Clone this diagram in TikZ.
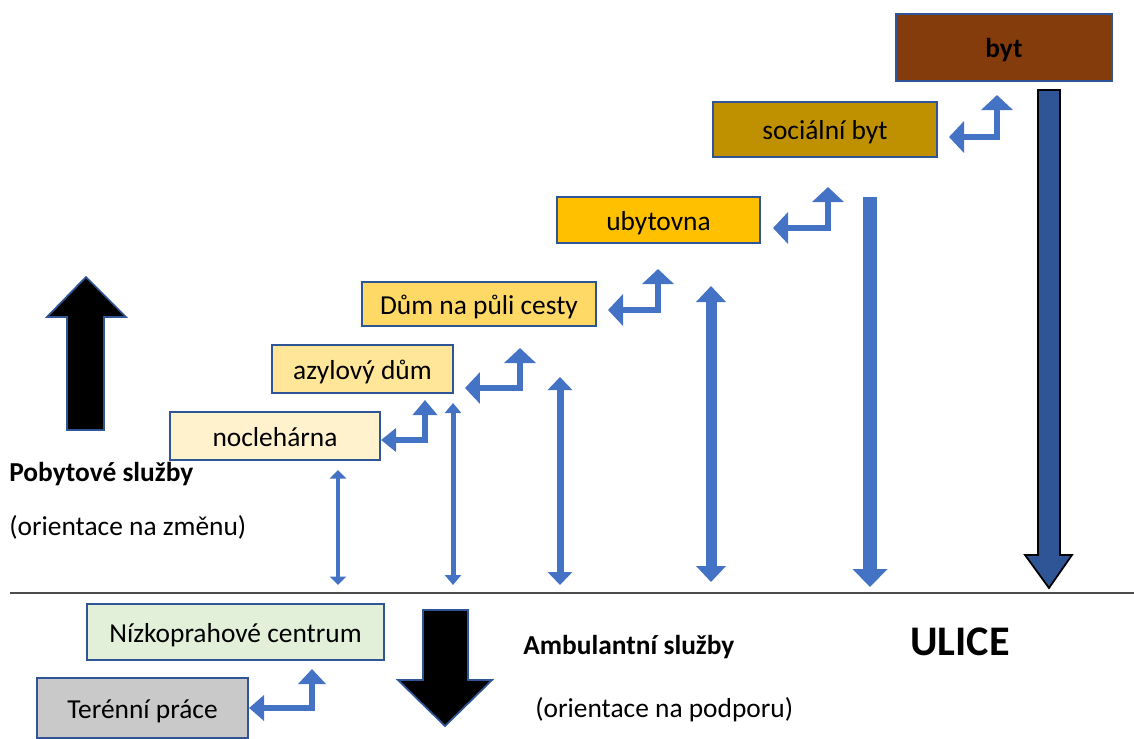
\documentclass[tikz,border=0pt]{standalone}
\usepackage{fontspec}
\setmainfont{Carlito}
\usetikzlibrary{arrows.meta}

\definecolor{boxline}{HTML}{2F5597}
\definecolor{arrowblue}{HTML}{4472C4}
\definecolor{bytfill}{HTML}{843C0C}
\definecolor{socfill}{HTML}{BF9000}
\definecolor{ubytfill}{HTML}{FFC000}
\definecolor{dumfill}{HTML}{FFD966}
\definecolor{azylfill}{HTML}{FFE699}
\definecolor{noclfill}{HTML}{FFF2CC}
\definecolor{nizkofill}{HTML}{E2F0D9}
\definecolor{terenfill}{HTML}{C9C9C9}

\begin{document}
\begin{tikzpicture}[x=0.02cm, y=-0.02cm,
  box/.style={draw=boxline, line width=1.2pt, inner sep=0pt, text height=1.35em, text depth=0.2em,
    font=\fontsize{15.6}{18}\selectfont},
  label/.style={anchor=west, inner sep=0pt, font=\fontsize{15.6}{18}\selectfont},
  bentarrow/.style={arrowblue, line width=0.11cm,
    arrows={Triangle[width=0.62cm,length=0.3cm]-Triangle[width=0.62cm,length=0.3cm]}},
  updown/.style n args={3}{arrowblue, line width=#1,
    arrows={Triangle[width=#2,length=#3]-Triangle[width=#2,length=#3]}},
  bigarrow/.style={fill=black, draw=boxline, line width=1pt}]
% Set the page size (in pixels of the original)
\useasboundingbox (0,0) rectangle (1134,738);

% The ladder of housing boxes
\node[box, fill=bytfill, minimum width=4.32cm, minimum height=1.34cm, font=\fontsize{15.6}{18}\selectfont\bfseries] (byt) at (1004,47.5) {byt};
\node[box, fill=socfill, minimum width=4.48cm, minimum height=1.10cm] (soc) at (825,129.5) {sociální byt};
\node[box, fill=ubytfill, minimum width=4.06cm, minimum height=0.92cm] (ubyt) at (658.5,220) {ubytovna};
\node[box, fill=dumfill, minimum width=4.68cm, minimum height=0.88cm] (dum) at (479,304) {Dům na půli cesty};
\node[box, fill=azylfill, minimum width=3.62cm, minimum height=0.96cm] (azyl) at (362.5,369) {azylový dům};
\node[box, fill=noclfill, minimum width=4.20cm, minimum height=0.96cm] (nocl) at (275,436) {noclehárna};
\node[box, fill=nizkofill, minimum width=5.94cm, minimum height=1.12cm] (nizko) at (235.5,632) {Nízkoprahové centrum};
\node[box, fill=terenfill, minimum width=4.22cm, minimum height=1.20cm] (teren) at (142.5,708) {Terénní práce};

% Ends of the bent arrows
\coordinate (nocl-up) at (425,400);
\coordinate (azyl-tip) at (465,388);
\coordinate (azyl-up) at (520,348);
\coordinate (dum-tip) at (608,310);
\coordinate (dum-up) at (658,269);
\coordinate (ubyt-tip) at (773,228);
\coordinate (ubyt-up) at (828,187);
\coordinate (soc-tip) at (949,137);
\coordinate (soc-up) at (997,95);
\coordinate (teren-up) at (312,669);

% Bent arrows between the steps
\draw[bentarrow, arrows={Triangle[width=0.46cm,length=0.3cm]-Triangle[width=0.48cm,length=0.3cm]}] ([yshift=-0.08cm]nocl.east) -| (nocl-up);
\draw[bentarrow] (azyl-tip) -| (azyl-up);
\draw[bentarrow] (dum-tip) -| (dum-up);
\draw[bentarrow] (ubyt-tip) -| (ubyt-up);
\draw[bentarrow] (soc-tip) -| (soc-up);
\draw[bentarrow, arrows={Triangle[width=0.5cm,length=0.3cm]-Triangle[width=0.54cm,length=0.3cm]}] (teren.east) -| (teren-up);

% The street line
\draw[black!70, line width=1pt] (10,593) -- (1134,593);

% Arrows down to the street
\coordinate (v1top) at (338,470);
\coordinate (v1bot) at (338,585);
\coordinate (v2top) at (453,403);
\coordinate (v2bot) at (453,585);
\coordinate (v3top) at (560,377);
\coordinate (v3bot) at (560,585);
\coordinate (v4top) at (711,286);
\coordinate (v4bot) at (711,582);
\coordinate (v5top) at (870,197);
\coordinate (v5bot) at (870,587);
\draw[updown={0.08cm}{0.32cm}{0.17cm}] (v1top) -- (v1bot);
\draw[updown={0.1cm}{0.32cm}{0.2cm}] (v2top) -- (v2bot);
\draw[updown={0.14cm}{0.48cm}{0.26cm}] (v3top) -- (v3bot);
\draw[updown={0.22cm}{0.58cm}{0.32cm}] (v4top) -- (v4bot);
\draw[arrowblue, line width=0.28cm, arrows={-Triangle[width=0.68cm,length=0.36cm]}] (v5top) -- (v5bot);

% Arrow from byt down to the street
\filldraw[fill=boxline, draw=black, line width=1pt] (1038,90) -- (1060,90) -- (1060,555) -- (1072,555) -- (1049,588) -- (1025,555) -- (1038,555) -- cycle;

% Big black arrows
\filldraw[bigarrow] (67,430) -- (67,317) -- (47,317) -- (86,277) -- (126,317) -- (104,317) -- (104,430) -- cycle;
\filldraw[bigarrow] (423,610) -- (468,610) -- (468,680) -- (492,680) -- (445,726) -- (398,680) -- (423,680) -- cycle;

% Texts
\node[label, font=\fontsize{15.6}{18}\selectfont\bfseries] (pobyt) at (9,474) {Pobytové služby};
\node[label] (zmena) at (9,527) {(orientace na změnu)};
\node[label, font=\fontsize{15.6}{18}\selectfont\bfseries] (ambul) at (523,647) {Ambulantní služby};
\node[label] (podpora) at (535,710) {(orientace na podporu)};
\node[font=\fontsize{24}{28}\selectfont\bfseries] (ulice) at (960,642) {ULICE};
\end{tikzpicture}
\end{document}
